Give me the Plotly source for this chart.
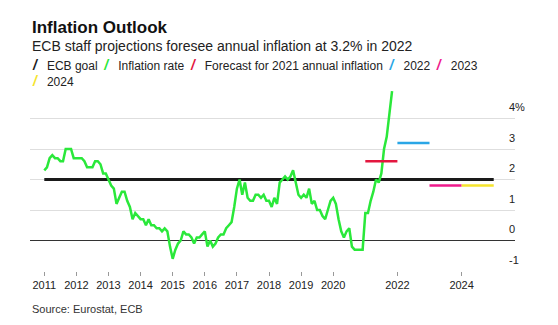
import pandas as pd
import plotly.graph_objects as go

# Euro-area HICP, annual rate of change (%), monthly Jan 2011 - Nov 2021
months = pd.period_range("2011-01", "2021-11", freq="M")
inflation_rate = [
    2.3, 2.4, 2.7, 2.8, 2.7, 2.7, 2.6, 2.6, 3.0, 3.0, 3.0, 2.7,    # 2011
    2.7, 2.7, 2.7, 2.6, 2.4, 2.4, 2.4, 2.6, 2.6, 2.5, 2.2, 2.2,    # 2012
    2.0, 1.8, 1.7, 1.2, 1.4, 1.6, 1.6, 1.3, 1.1, 0.7, 0.9, 0.8,    # 2013
    0.7, 0.7, 0.5, 0.7, 0.5, 0.5, 0.4, 0.4, 0.3, 0.4, 0.3, -0.2,   # 2014
    -0.6, -0.3, -0.1, 0.0, 0.3, 0.2, 0.2, 0.1, -0.1, 0.1, 0.1, 0.2,  # 2015
    0.3, -0.2, 0.0, -0.2, -0.1, 0.1, 0.2, 0.2, 0.4, 0.5, 0.6, 1.1,  # 2016
    1.7, 2.0, 1.5, 1.9, 1.4, 1.3, 1.3, 1.5, 1.5, 1.4, 1.5, 1.3,    # 2017
    1.3, 1.1, 1.4, 1.2, 1.9, 2.0, 2.1, 2.0, 2.1, 2.3, 1.9, 1.5,    # 2018
    1.4, 1.5, 1.4, 1.7, 1.2, 1.3, 1.0, 1.0, 0.8, 0.7, 1.0, 1.3,    # 2019
    1.4, 1.2, 0.7, 0.3, 0.1, 0.3, 0.4, -0.2, -0.3, -0.3, -0.3, -0.3,  # 2020
    0.9, 0.9, 1.3, 1.6, 2.0, 1.9, 2.2, 3.0, 3.4, 4.1, 4.9,         # 2021
]

# ECB medium-term goal
ecb_goal = 2.0
goal_years = [2011, 2025]

# ECB staff projections for annual inflation
forecast_years = [2021, 2022, 2023, 2024]
forecast_values = [2.6, 3.2, 1.8, 1.8]

# Axis ticks
x_tick_years = [2011, 2012, 2013, 2014, 2015, 2016, 2017, 2018, 2019, 2020, 2022, 2024]
y_tick_values = [-1, 0, 1, 2, 3, 4]
y_tick_labels = ["-1", "0", "1", "2", "3", "4%"]

# Legend entries (label, colour) laid out in two rows
legend_rows = [
    [("ECB goal", "#1a1a1a"), ("Inflation rate", "#2ae83a"),
     ("Forecast for 2021 annual inflation", "#e3173f"),
     ("2022", "#2aa6e6"), ("2023", "#ef1a8c")],
    [("2024", "#f5e42e")],
]
forecast_colors = ["#e3173f", "#2aa6e6", "#ef1a8c", "#f5e42e"]

FONT = "Liberation Sans"
x_month = [p.year + (p.month - 1) / 12 for p in months]

fig = go.Figure()

fig.add_trace(go.Scatter(
    x=goal_years, y=[ecb_goal] * len(goal_years), mode="lines",
    line=dict(color="#1a1a1a", width=3), showlegend=False, hoverinfo="skip",
))
fig.add_trace(go.Scatter(
    x=x_month, y=inflation_rate, mode="lines",
    line=dict(color="#2ae83a", width=2.5), showlegend=False,
))
for yr, val, col in zip(forecast_years, forecast_values, forecast_colors):
    fig.add_trace(go.Scatter(
        x=[yr, yr + 1], y=[val, val], mode="lines",
        line=dict(color=col, width=2.5), showlegend=False,
    ))

# Title, subtitle, legend and source line
fig.add_annotation(text="<b>Inflation Outlook</b>", xref="paper", yref="paper",
                   x=0, y=1.33, xanchor="left", yanchor="middle", showarrow=False,
                   font=dict(family=FONT, size=17, color="#111"))
fig.add_annotation(text="ECB staff projections foresee annual inflation at 3.2% in 2022",
                   xref="paper", yref="paper", x=0, y=1.232, xanchor="left",
                   yanchor="middle", showarrow=False,
                   font=dict(family=FONT, size=14, color="#222"))
SLASH_GAP = "&nbsp;" * 3
ITEM_GAP = "&nbsp;" * 2
legend_lines = []
for row in legend_rows:
    parts = [
        f'<span style="color:{c};font-size:14px"><b><i>/</i></b></span>{SLASH_GAP}{lab}'
        for lab, c in row
    ]
    legend_lines.append(ITEM_GAP.join(parts))
fig.add_annotation(text="<br>".join(legend_lines), xref="paper", yref="paper",
                   x=0, y=1.081, xanchor="left", yanchor="middle", align="left",
                   showarrow=False, font=dict(family=FONT, size=12, color="#222"))
fig.add_annotation(text="Source: Eurostat, ECB", xref="paper", yref="paper",
                   x=0, y=-0.208, xanchor="left", yanchor="middle", showarrow=False,
                   font=dict(family=FONT, size=11, color="#333"))

fig.update_layout(
    width=558, height=325,
    margin=dict(l=30, r=43, t=88, b=54),
    paper_bgcolor="white", plot_bgcolor="white",
    showlegend=False,
    font=dict(family=FONT, size=11, color="#222"),
)
fig.update_xaxes(
    range=[2010.555, 2025.663], tickmode="array", tickvals=x_tick_years,
    ticktext=[str(y) for y in x_tick_years], ticks="outside", ticklen=4,
    tickcolor="#999", tickwidth=1, showgrid=False, zeroline=False, showline=False,
    tickfont=dict(family=FONT, size=11, color="#222"),
)
fig.update_yaxes(
    side="right", range=[-1, 5.0], tickmode="array", tickvals=y_tick_values,
    ticktext=y_tick_labels, ticks="", showgrid=True, gridcolor="#dedede", gridwidth=1,
    zeroline=True, zerolinecolor="#333", zerolinewidth=1, showline=False,
    ticklabelposition="outside", ticklabelstandoff=-7, ticklabelshift=-11,
    tickfont=dict(family=FONT, size=11, color="#222"),
)

fig.write_html("out.html")
